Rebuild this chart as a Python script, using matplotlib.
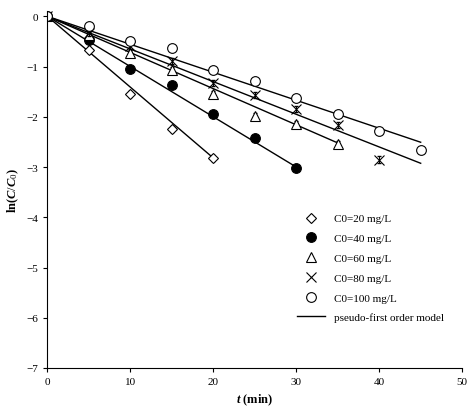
import matplotlib.pyplot as plt
import numpy as np

plt.rcParams["font.family"] = "Liberation Serif"
plt.rcParams["mathtext.fontset"] = "custom"
plt.rcParams["mathtext.rm"] = "Liberation Serif"
plt.rcParams["mathtext.it"] = "Liberation Serif:italic:bold"
plt.rcParams["mathtext.bf"] = "Liberation Serif:bold"

t20 = [0, 5, 10, 15, 20]
y20 = [0, -0.67, -1.55, -2.25, -2.82]
t40 = [0, 5, 10, 15, 20, 25, 30]
y40 = [0, -0.47, -1.04, -1.37, -1.94, -2.42, -3.02]
t60 = [0, 5, 10, 15, 20, 25, 30, 35]
y60 = [0, -0.38, -0.73, -1.07, -1.55, -1.99, -2.15, -2.54]
t80 = [0, 5, 10, 15, 20, 25, 30, 35, 40]
y80 = [0, -0.33, -0.6, -0.89, -1.32, -1.57, -1.84, -2.17, -2.85]
t100 = [0, 5, 10, 15, 20, 25, 30, 35, 40, 45]
y100 = [0, -0.19, -0.49, -0.64, -1.06, -1.29, -1.62, -1.94, -2.29, -2.67]

# pseudo-first order rate constants (1/min) and fit end times
k_fit = [0.141, 0.1, 0.072, 0.065, 0.0557]
t_end = [20, 30, 35, 45, 45]

fig, ax = plt.subplots(figsize=(4.74, 4.10), dpi=100)
fig.subplots_adjust(left=0.1, right=0.975, top=0.97, bottom=0.1)

series = [
    (t20, y20, "D", "white", "C0=20 mg/L"),
    (t40, y40, "o", "black", "C0=40 mg/L"),
    (t60, y60, "^", "white", "C0=60 mg/L"),
    (t80, y80, "x", "black", "C0=80 mg/L"),
    (t100, y100, "o", "white", "C0=100 mg/L"),
]
handles = []
for (t, y, m, fc, lab), k, te in zip(series, k_fit, t_end):
    tt = np.array([0, te])
    fit_line, = ax.plot(tt, -k * tt, color="black", lw=1)
    ms = 5 if m == "D" else 7
    ax.errorbar(t, y, yerr=0.06, fmt="none", ecolor="black",
                elinewidth=0.7, capsize=1.5)
    h, = ax.plot(t, y, m, mfc=fc, mec="black", color="black",
                 ms=ms, mew=0.8, label=lab)
    handles.append(h)
handles.append(fit_line)
labels = [s[4] for s in series] + ["pseudo-first order model"]

ax.set_xlim(0, 50)
ax.set_ylim(-7, 0.1)
ax.set_xticks(range(0, 51, 10))
ax.set_yticks(range(-7, 1))
ax.tick_params(labelsize=8, direction="out", length=3)
ax.spines["top"].set_visible(False)
ax.spines["right"].set_visible(False)
ax.set_xlabel(r"$\mathit{t}$ $\mathbf{(min)}$", fontsize=9)
ax.set_ylabel(r"$\mathbf{ln(}\mathit{C/C_0}\mathbf{)}$", fontsize=9)

ax.legend(handles, labels, loc="lower right", bbox_to_anchor=(0.98, 0.1), frameon=False,
          fontsize=8, handlelength=2.5, labelspacing=0.9)

fig.savefig("out.png", dpi=100)
